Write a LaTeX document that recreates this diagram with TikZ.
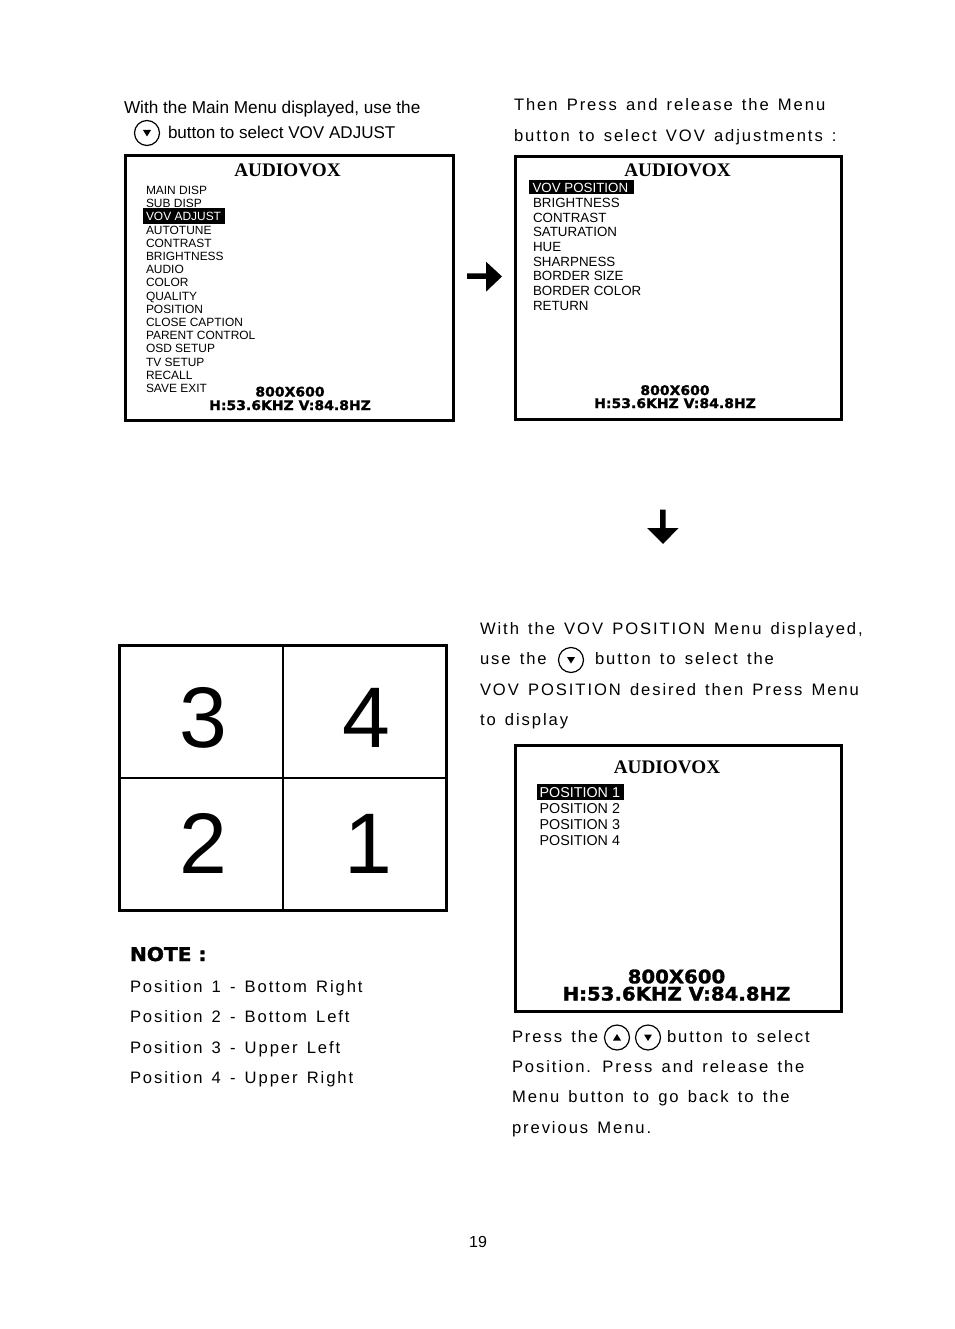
\documentclass[tikz,border=0pt]{standalone}
\usepackage{fontspec}
\setmainfont{Liberation Sans}
\newfontfamily\serifb[BoldFont={Liberation Serif Bold}]{Liberation Serif}
\newfontfamily\widefont[BoldFeatures={FakeBold=1.6,FakeStretch=1.06}]{DejaVu Sans}
\newfontfamily\spaced[LetterSpace=11.6,WordSpace=1.4]{Liberation Sans}
\newcommand{\fs}[1]{\fontsize{#1}{#1}\selectfont}
\tikzset{
  txt/.style={anchor=base west,inner sep=0pt,outer sep=0pt,text=black},
  plain/.style={txt,font=\fs{17.2}},
  sp/.style={txt,font=\spaced\fs{16.6}},
  brand/.style={anchor=base,inner sep=0pt,font=\serifb\bfseries\fs{19.2}},
  mitem/.style={txt,font=\fs{#1}},
  res/.style={anchor=base,inner sep=0pt,font=\widefont\bfseries\fs{#1}},
  screen/.style={draw=black,line width=2.7pt,fill=white},
  hl/.style={fill=black,draw=none},
  btn/.style={draw=black,line width=1.2pt,circle,minimum size=25pt,inner sep=0pt},
  grid/.style={draw=black,line width=2pt},
  cellnum/.style={anchor=base,inner sep=0pt,font=\fs{86}},
  block/.style={fill=black,draw=none},
}
% #1 name, #2 centre, #3 direction: -1 = down, 1 = up
\newcommand{\btnat}[3]{%
  \node[btn] (#1) at (#2) {};
  \fill[black] ([xshift=-4pt,yshift=#3*-3pt]#1.center) -- ([xshift=4pt,yshift=#3*-3pt]#1.center) -- ([yshift=#3*3.5pt]#1.center) -- cycle;}
\begin{document}
\begin{tikzpicture}[x=1pt,y=-1pt]
\useasboundingbox[fill=white] (0,0) rectangle (954,1329);

% ---- top left
\node[plain] (t1) at (124,114) {With the Main Menu displayed, use the};
\btnat{b1}{147,133}{-1}
\node[plain,font=\fs{17.05}] (t2) at (168,139) {button to select VOV ADJUST};
\draw[screen] (125.3,155.3) rectangle (453.7,420.7);
\node[brand] (a1) at (287.5,177) {AUDIOVOX};
\foreach \n/\t [count=\i from 0] in {0/MAIN DISP,1/SUB DISP,2/,3/AUTOTUNE,4/CONTRAST,5/BRIGHTNESS,6/AUDIO,7/COLOR,8/QUALITY,9/POSITION,10/CLOSE CAPTION,11/PARENT CONTROL,12/OSD SETUP,13/TV SETUP,14/RECALL,15/SAVE EXIT}
  \node[mitem=11.95] (ma\n) at (146,194.5+13.2*\i) {\t};
\fill[hl] (143,208.3) rectangle (225,224);
\node[mitem=11.95,text=white] (mahl) at (146,221) {VOV ADJUST};
\node[res=13.2] (r1a) at (290,396.5) {800X600};
\node[res=13.2] (r1b) at (290,410) {H:53.6KHZ V:84.8HZ};

% ---- top right
\node[sp] (t3) at (514,111) {Then Press and release the Menu};
\node[sp] (t4) at (514,142) {button to select VOV adjustments :};
\draw[screen] (515.3,156.3) rectangle (841.6,419.8);
\node[brand] (a2) at (677.5,177) {AUDIOVOX};
\fill[hl] (529.3,180.5) rectangle (634,194);
\node[mitem=13.35,text=white] (mbhl) at (532.5,192.8) {VOV POSITION};
\foreach \t [count=\i from 1] in {BRIGHTNESS,CONTRAST,SATURATION,HUE,SHARPNESS,BORDER SIZE,BORDER COLOR,RETURN}
  \node[mitem=13.35] (mb\i) at (533,192.7+14.7*\i) {\t};
\node[res=13.2] (r2a) at (675,395) {800X600};
\node[res=13.2] (r2b) at (675,408) {H:53.6KHZ V:84.8HZ};

% ---- block arrows
\fill[block] (467,273.5) -- (486,273.5) -- (486,261.7) -- (502,276.5) -- (486,291.7) -- (486,279) -- (467,279) -- cycle;
\fill[block] (660,509.5) -- (665.5,509.5) -- (665.5,528) -- (678.5,528) -- (663,544) -- (647,528) -- (660,528) -- cycle;

% ---- right middle text
\node[sp] (t5) at (480,634) {With the VOV POSITION Menu displayed,};
\node[sp] (t6) at (480,664) {use the};
\btnat{b2}{571,660}{-1}
\node[sp] (t7) at (595,664) {button to select the};
\node[sp] (t8) at (480,695) {VOV POSITION desired then Press Menu};
\node[sp] (t9) at (480,725) {to display};

% ---- position menu
\draw[screen] (515.3,745.6) rectangle (841.6,1011.4);
\node[brand] (a3) at (667,773) {AUDIOVOX};
\fill[hl] (536.7,783.5) rectangle (624,800);
\node[mitem=14.3,text=white] (mchl) at (539.7,797) {POSITION 1};
\node[mitem=14.3] (mc2) at (539.7,813) {POSITION 2};
\node[mitem=14.3] (mc3) at (539.7,829) {POSITION 3};
\node[mitem=14.3] (mc4) at (539.7,845) {POSITION 4};
\node[res=18.6] (r3a) at (676.5,983.3) {800X600};
\node[res=18.6] (r3b) at (676.5,1000.5) {H:53.6KHZ V:84.8HZ};

% ---- bottom right text
\node[sp] (t10) at (512,1042) {Press the};
\btnat{b3}{617,1037.5}{1}
\btnat{b4}{648,1037.5}{-1}
\node[sp] (t11) at (667,1042) {button to select};
\node[sp] (t12) at (512,1072) {Position. Press and release the};
\node[sp] (t13) at (512,1102) {Menu button to go back to the};
\node[sp] (t14) at (512,1133) {previous Menu.};

% ---- quadrant grid
\draw[grid,line width=3pt] (119.8,645.8) rectangle (446.2,910.2);
\draw[grid] (283,645.8) -- (283,910.2);
\draw[grid] (119.8,777.8) -- (446.2,777.8);
\node[cellnum] (q3) at (203.3,747.5) {3};
\node[cellnum] (q4) at (366,747.5) {4};
\node[cellnum] (q2) at (203,873) {2};
\node[cellnum] (q1) at (368.5,873) {1};

% ---- note
\node[txt,font=\widefont\bfseries\fs{19}] (note) at (130,961) {NOTE :};
\node[sp] (n1) at (130,992) {Position 1 - Bottom Right};
\node[sp] (n2) at (130,1022) {Position 2 - Bottom Left};
\node[sp] (n3) at (130,1053) {Position 3 - Upper Left};
\node[sp] (n4) at (130,1083) {Position 4 - Upper Right};

\node[anchor=base,inner sep=0pt,font=\fs{16}] (pg) at (478,1247.5) {19};
\end{tikzpicture}
\end{document}
